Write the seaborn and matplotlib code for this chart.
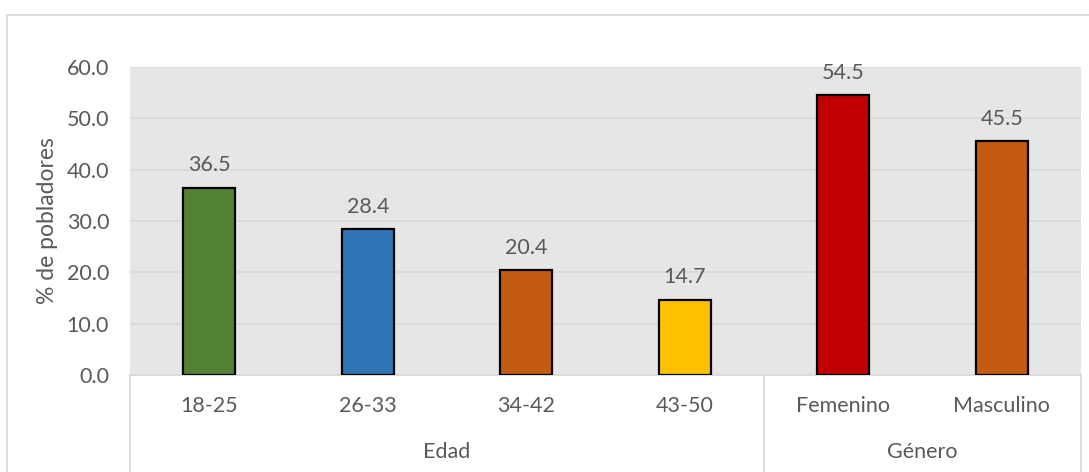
import matplotlib
matplotlib.use("Agg")
import matplotlib.pyplot as plt
import matplotlib.transforms as mtransforms
from matplotlib.patches import Rectangle
import seaborn as sns
import pandas as pd

categories = ["18-25", "26-33", "34-42", "43-50", "Femenino", "Masculino"]
values = [36.5, 28.4, 20.4, 14.7, 54.5, 45.5]
groups = ["Edad", "Edad", "Edad", "Edad", "Género", "Género"]
colors = ["#548235", "#2E75B6", "#C55A11", "#FFC000", "#C00000", "#C55A11"]
y_ticks = [0, 10, 20, 30, 40, 50, 60]
y_label = "% de pobladores"

sns.set_theme(style="white")
plt.rcParams["font.family"] = ["Lato", "DejaVu Sans"]
TXT = "#595959"
GRID = "#D9D9D9"
FS = 15.5

W, H = 1089, 472
fig = plt.figure(figsize=(W / 100, H / 100), dpi=100)
fig.patch.set_facecolor("white")
ax = fig.add_axes([130 / W, 1 - 375 / H, (1081 - 130) / W, (375 - 67) / H])

df = pd.DataFrame({"cat": categories, "val": values, "grp": groups})
sns.barplot(data=df, x="cat", y="val", hue="cat", palette=colors, legend=False,
            width=0.33, edgecolor="black", linewidth=1.6, saturation=1, ax=ax, zorder=3)

ax.set_facecolor("#E7E6E6")
ax.set_ylim(0, 60)
ax.set_xlim(-0.5, len(categories) - 0.5)
ax.set_yticks(y_ticks)
ax.set_yticklabels([f"{t:.1f}" for t in y_ticks], color=TXT, fontsize=FS)
ax.yaxis.grid(True, color=GRID, linewidth=1.3, zorder=0)
ax.set_axisbelow(True)
for s in ["top", "right", "left"]:
    ax.spines[s].set_visible(False)
ax.spines["bottom"].set_color(GRID)
ax.spines["bottom"].set_linewidth(1.3)
ax.tick_params(axis="y", length=0, pad=15)
ax.tick_params(axis="x", length=0, pad=15)
ax.set_xticks(range(len(categories)))
ax.set_xticklabels(categories, color=TXT, fontsize=FS)
ax.set_xlabel("")
ax.set_ylabel(y_label, color=TXT, fontsize=16.5)
ax.yaxis.set_label_coords(-72 / (1081 - 130), 0.5)

for i, v in enumerate(values):
    ax.annotate(f"{v:.1f}", (i, v), xytext=(0, 16), textcoords="offset points",
                ha="center", va="center", color=TXT, fontsize=FS)

trans = mtransforms.blended_transform_factory(ax.transData, ax.transAxes)
ybot = -110 / (375 - 67)
bounds = [-0.5]
for i in range(1, len(groups)):
    if groups[i] != groups[i - 1]:
        bounds.append(i - 0.5)
bounds.append(len(groups) - 0.5)
for b in bounds:
    ax.plot([b, b], [0, ybot], transform=trans, color=GRID, linewidth=1.3, clip_on=False)

uniq = []
for g in groups:
    if g not in uniq:
        uniq.append(g)
for k, g in enumerate(uniq):
    cx = (bounds[k] + bounds[k + 1]) / 2
    ax.text(cx, -77 / (375 - 67), g, transform=trans, ha="center", va="center",
            color=TXT, fontsize=FS)

fig.patches.append(Rectangle((7 / W, -0.1), 1.2, 1.1 - 15 / H, transform=fig.transFigure,
                             fill=False, edgecolor=GRID, linewidth=1.3))

fig.savefig("out.png", dpi=100)
